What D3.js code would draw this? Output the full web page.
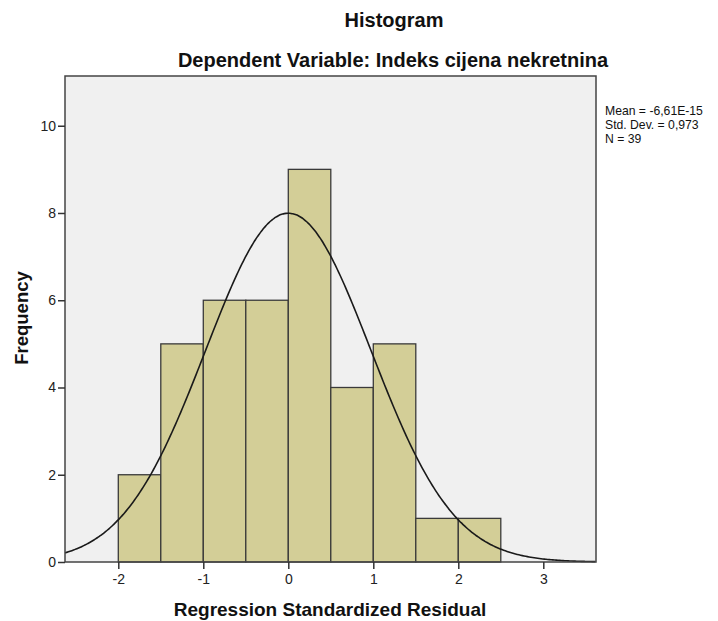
<!DOCTYPE html>
<html><head><meta charset="utf-8">
<script src="https://cdn.jsdelivr.net/npm/d3@7"></script>
<style>body{margin:0;background:#fff;} text{font-family:Arial,"Liberation Sans",sans-serif;}</style>
</head><body>
<svg id="c" width="718" height="621"></svg>
<script>
const binStarts = [-2, -1.5, -1, -0.5, 0, 0.5, 1, 1.5, 2];
const counts = [2, 5, 6, 6, 9, 4, 5, 1, 1];
const binWidth = 0.5;
const xTicks = [-2, -1, 0, 1, 2, 3];
const yTicks = [0, 2, 4, 6, 8, 10];
const statLines = ["Mean = -6,61E-15", "Std. Dev. = 0,973", "N = 39"];
const mean = -6.61e-15, sd = 0.973, n = 39;

const svg = d3.select("#c");
const L = 65, R = 596, T = 76, B = 562;
const x = d3.scaleLinear().domain([-2.627, 3.62]).range([L, R]);
const y = d3.scaleLinear().domain([0, 11.14]).range([B, T]);

svg.append("rect").attr("x", L).attr("y", T).attr("width", R - L).attr("height", B - T)
  .attr("fill", "#f0f0f0");

const bars = binStarts.map((s, i) => ({s, c: counts[i]}));
svg.append("g").selectAll("rect").data(bars).join("rect")
  .attr("x", d => x(d.s)).attr("y", d => y(d.c))
  .attr("width", d => x(d.s + binWidth) - x(d.s))
  .attr("height", d => y(0) - y(d.c))
  .attr("fill", "#d3ce97").attr("stroke", "#3a3a3a").attr("stroke-width", 1.3);

// fitted normal curve from the chart's stated statistics
const xs = d3.range(-2.627, 3.621, 0.02);
const curve = xs.map(v => [v, n * binWidth / (sd * Math.sqrt(2 * Math.PI)) * Math.exp(-0.5 * ((v - mean) / sd) ** 2)]);
svg.append("path").datum(curve)
  .attr("d", d3.line().x(d => x(d[0])).y(d => y(d[1])).curve(d3.curveBasis))
  .attr("fill", "none").attr("stroke", "#1a1a1a").attr("stroke-width", 1.6);

svg.append("rect").attr("x", L).attr("y", T).attr("width", R - L).attr("height", B - T)
  .attr("fill", "none").attr("stroke", "#444").attr("stroke-width", 1.5);

const fmt = d => String(d);
const xAxis = svg.append("g").attr("transform", `translate(0,${B})`)
  .call(d3.axisBottom(x).tickValues(xTicks).tickSize(7).tickFormat(fmt));
const yAxis = svg.append("g").attr("transform", `translate(${L},0)`)
  .call(d3.axisLeft(y).tickValues(yTicks).tickSize(7).tickFormat(fmt));
[xAxis, yAxis].forEach(a => {
  a.select(".domain").remove();
  a.selectAll(".tick line").attr("stroke", "#333").attr("stroke-width", 1.5);
  a.selectAll(".tick text").attr("font-size", 14).attr("fill", "#222")
    .attr("font-family", "Arial,'Liberation Sans',sans-serif");
});
xAxis.selectAll(".tick text").attr("y", 22).attr("dy", null);
yAxis.selectAll(".tick text").attr("x", -9);

svg.append("text").attr("x", 394).attr("y", 27).attr("text-anchor", "middle")
  .attr("font-size", 20).attr("font-weight", "bold").attr("fill", "#111").text("Histogram");
svg.append("text").attr("x", 393).attr("y", 67).attr("text-anchor", "middle")
  .attr("font-size", 20).attr("font-weight", "bold").attr("fill", "#111")
  .text("Dependent Variable: Indeks cijena nekretnina");
svg.append("text").attr("x", 330).attr("y", 616).attr("text-anchor", "middle")
  .attr("font-size", 19).attr("font-weight", "bold").attr("fill", "#111")
  .text("Regression Standardized Residual");
svg.append("text").attr("transform", "translate(28,318) rotate(-90)").attr("text-anchor", "middle")
  .attr("font-size", 18.5).attr("font-weight", "bold").attr("fill", "#111").text("Frequency");

svg.append("g").selectAll("text").data(statLines).join("text")
  .attr("x", 605).attr("y", (d, i) => 115 + i * 14)
  .attr("font-size", 12.2).attr("fill", "#111").text(d => d);
</script>
</body></html>
